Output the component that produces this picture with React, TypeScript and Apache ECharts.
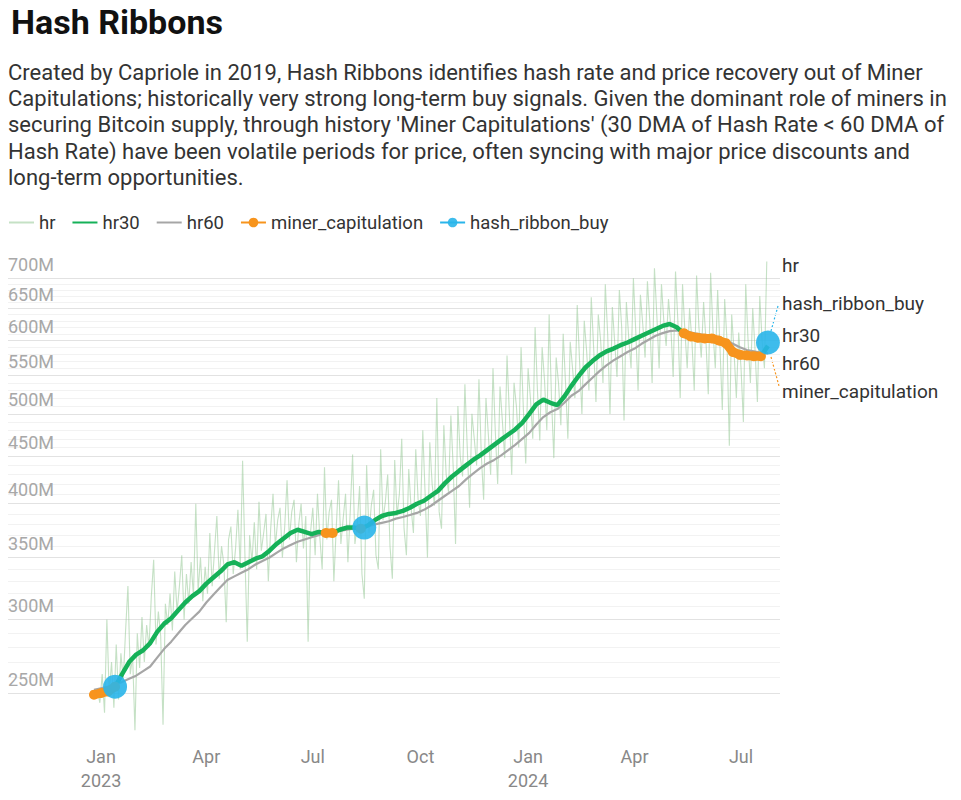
import React, { useEffect, useRef } from "react";
import * as echarts from "echarts";

const DAY = 86400000;
const T0 = Date.UTC(2023, 0, 1);

// Hash rate (sampled every 2 days), in M, starting 2022-12-29
const hrStartDay = -3;
const hrStepDays = 2;
const hr = [
  252, 244, 262, 238, 300, 250, 270, 241, 282, 246, 276, 258, 292, 326, 262, 274,
  228, 290, 266, 302, 270, 296, 280, 318, 348, 282, 306, 288, 231, 312, 296,
  320, 292, 338, 306, 326, 352, 300, 336, 312, 346, 318, 400, 322, 350, 314, 342,
  320, 372, 326, 356, 388, 332, 360, 344, 298, 366, 378, 336, 358, 394, 340,
  445, 352, 284, 370, 346, 382, 340, 402, 356, 372, 390, 330, 376, 410, 360,
  384, 396, 350, 378, 424, 366, 392, 404, 346, 380, 400, 358, 388, 284, 372, 396,
  352, 410, 368, 340, 438, 366, 392, 404, 330, 376, 424, 362, 386, 410, 346,
  392, 452, 362, 380, 418, 336, 316, 440, 372, 398, 414, 352, 340, 458, 384,
  402, 430, 360, 332, 446, 388, 410, 470, 376, 352, 436, 396, 372, 458, 404,
  388, 480, 410, 350, 466, 420, 398, 520, 392, 376, 486, 430, 412, 498, 438, 362,
  510, 450, 428, 538, 460, 396, 500, 470, 440, 545, 452, 404, 520, 476, 430,
  560, 478, 420, 535, 492, 448, 578, 500, 430, 540, 510, 460, 590, 505, 442,
  560, 520, 470, 620, 530, 468, 590, 545, 480, 640, 520, 448, 575, 540, 486,
  610, 540, 470, 598, 560, 520, 655, 570, 500, 630, 585, 530, 668, 590, 515,
  640, 600, 540, 690, 610, 500, 652, 598, 548, 680, 620, 492, 660, 605, 560, 700,
  615, 530, 672, 625, 575, 695, 630, 540, 718, 640, 560, 690, 630, 592, 665,
  620, 548, 712, 630, 520, 690, 615, 560, 650, 600, 530, 705, 620, 575, 660,
  600, 525, 710, 615, 560, 680, 590, 505, 665, 600, 462, 640, 585, 520, 612,
  560, 490, 690, 600, 540, 650, 585, 515, 670, 600, 560, 730,
];

// 30 / 60 day moving averages (sampled every 6 days), in M, starting 2022-12-26
const maStartDay = -6;
const maStepDays = 6;
const hr30 = [
  249, 250, 251, 254, 262, 270, 275, 278, 283, 291,
  297, 301, 307, 313, 318, 322, 328, 333, 338, 344,
  346, 343, 346, 349, 351, 356, 362, 367, 372, 375,
  373, 371, 373, 372, 372, 375, 377, 377, 376, 379,
  384, 388, 390, 391, 393, 396, 400, 403, 408, 413,
  421, 428, 434, 440, 446, 451, 457, 463, 469, 475,
  481, 489, 500, 512, 518, 514, 511, 522, 536, 549,
  561, 570, 578, 584, 588, 593, 597, 602, 607, 612,
  617, 622, 625, 620, 611, 606, 604, 603, 603, 600,
  596, 583, 579, 578, 577, 577, 592,
];
const hr60 = [
  252, 253, 254, 255, 257, 259, 261, 264, 267, 273,
  279, 284, 290, 296, 301, 306, 313, 319, 325, 331,
  334, 337, 340, 344, 347, 350, 354, 358, 361, 364,
  366, 368, 370, 373, 373.5, 374, 375, 376, 377.5, 378,
  380, 381.5, 383, 385.5, 387, 389, 391, 394, 398, 403,
  408, 413, 418, 425, 431, 437, 442, 446, 451, 457,
  463, 470, 477, 487, 496, 502, 506, 514, 523, 529,
  538, 547, 556, 564, 571, 577, 583, 588, 595, 601,
  607, 611, 614, 615, 614, 612, 610, 608, 606, 603,
  600, 595, 590, 586, 584, 582, 581,
];

// Hash ribbon buy signals
const buyDates = ["2023-01-13", "2023-08-14", "2024-07-24"];
const buyValues = [254, 377, 597];

// Axis ticks
const yMajorTicks = [250, 300, 350, 400, 450, 500, 550, 600, 650, 700];
const yMinorTicks = [
  260, 270, 280, 290, 310, 320, 330, 340, 360, 370, 380, 390, 410, 420, 430, 440,
  460, 470, 480, 490, 510, 520, 530, 540, 560, 570, 580, 590, 610, 620, 630, 640,
  660, 670, 680, 690,
];
const xTickDates = ["2023-01-01", "2023-04-01", "2023-07-01", "2023-10-01", "2024-01-01", "2024-04-01", "2024-07-01"];
const xTickLabels = ["Jan", "Apr", "Jul", "Oct", "Jan", "Apr", "Jul"];
const yearTickDates = ["2023-01-01", "2024-01-01"];
const yearTickLabels = ["2023", "2024"];

const parseDate = (s: string) => {
  const [y, m, d] = s.split("-").map(Number);
  return Date.UTC(y, m - 1, d);
};

const FONT = "Roboto, 'Noto Sans', sans-serif";

export default function App() {
  const ref = useRef<HTMLDivElement>(null);

  useEffect(() => {
    if (!ref.current) return;
    const chart = echarts.init(ref.current, undefined, { renderer: "svg" });

    const hrData = hr.map((v, i) => [T0 + (hrStartDay + i * hrStepDays) * DAY, v]);
    const maTime = (i: number) => T0 + (maStartDay + i * maStepDays) * DAY;
    const hr30Data = hr30.map((v, i) => [maTime(i), v]);
    const hr60Data = hr60.map((v, i) => [maTime(i), v]);
    const minerData = hr30.map((v, i) => [maTime(i), v < hr60[i] ? v : null]);
    const buyData: any[] = [];
    buyDates.forEach((d, i) => {
      const t = parseDate(d);
      buyData.push([t, buyValues[i]]);
      buyData.push([t + DAY, null]);
    });
    const xTicks = xTickDates.map(parseDate);
    const yearTicks = yearTickDates.map(parseDate);

    const xMin = T0 - 79.5 * DAY;
    const xMax = T0 + 580.3 * DAY;

    const markData: any[] = [
      ...yMinorTicks.map((v) => ({
        yAxis: v,
        lineStyle: { color: "#f2f2f2", width: 1, type: "solid" },
        label: { show: false },
      })),
      ...yMajorTicks.map((v) => ({
        yAxis: v,
        lineStyle: { color: "#e2e2e2", width: 1, type: "solid" },
        label: {
          show: true,
          position: "insideStartTop",
          formatter: v + "M",
          color: "#a8a8a8",
          fontSize: 18,
          fontFamily: FONT,
          distance: [0, 5],
        },
      })),
    ];

    const rightLabels = [
      { text: "hr", y: 265 },
      { text: "hash_ribbon_buy", y: 303 },
      { text: "hr30", y: 335 },
      { text: "hr60", y: 363 },
      { text: "miner_capitulation", y: 391 },
    ];

    const paragraph =
      "Created by Capriole in 2019, Hash Ribbons identifies hash rate and price recovery out of Miner\n" +
      "Capitulations; historically very strong long-term buy signals. Given the dominant role of miners in\n" +
      "securing Bitcoin supply, through history 'Miner Capitulations' (30 DMA of Hash Rate < 60 DMA of\n" +
      "Hash Rate) have been volatile periods for price, often syncing with major price discounts and\n" +
      "long-term opportunities.";

    const lineOnlyLegend = { color: "rgba(0,0,0,0)", opacity: 0, borderWidth: 0 };

    const labelFormatter = (ticks: number[], labels: string[]) => (val: number) => {
      const idx = ticks.findIndex((t) => Math.abs(t - val) < DAY);
      return idx >= 0 ? labels[idx] : "";
    };

    const hiddenAxisParts = {
      axisLine: { show: false },
      axisTick: { show: false },
      splitLine: { show: false },
    };

    const option: any = {
      animation: false,
      textStyle: { fontFamily: FONT },
      title: {
        text: "Hash Ribbons",
        left: 6,
        top: 0,
        textStyle: { fontSize: 34, fontWeight: "bold", color: "#111", fontFamily: FONT },
      },
      graphic: [
        {
          type: "text",
          left: 8,
          top: 59,
          style: { text: paragraph, font: `22px ${FONT}`, fill: "#333", lineHeight: 26.3 },
        },
        ...rightLabels.map((l) => ({
          type: "text",
          x: 782,
          y: l.y,
          style: { text: l.text, font: `19px ${FONT}`, fill: "#333", verticalAlign: "middle" },
        })),
        {
          type: "line",
          shape: { x1: 771, y1: 331, x2: 778, y2: 306 },
          style: { stroke: "#29b5ea", lineWidth: 1.2, lineDash: [2, 2] },
        },
        {
          type: "line",
          shape: { x1: 771, y1: 357, x2: 779, y2: 386 },
          style: { stroke: "#f7941d", lineWidth: 1.2, lineDash: [2, 2] },
        },
      ],
      legend: {
        left: 3,
        top: 208,
        itemWidth: 25,
        itemHeight: 12,
        itemGap: 16,
        textStyle: { fontSize: 18.5, color: "#333", fontFamily: FONT },
        data: [
          { name: "hr", itemStyle: lineOnlyLegend },
          { name: "hr30", itemStyle: lineOnlyLegend },
          { name: "hr60", itemStyle: lineOnlyLegend },
          { name: "miner_capitulation" },
          { name: "hash_ribbon_buy" },
        ],
      },
      grid: { left: 8, right: 181, top: 256, bottom: 55.5 },
      xAxis: [
        {
          type: "value",
          min: xMin,
          max: xMax,
          ...hiddenAxisParts,
          axisLabel: {
            customValues: xTicks,
            formatter: labelFormatter(xTicks, xTickLabels),
            fontSize: 18,
            color: "#888",
            lineHeight: 20,
            margin: 2,
            fontFamily: FONT,
            hideOverlap: false,
            showMinLabel: true,
            showMaxLabel: true,
          },
        },
        {
          type: "value",
          min: xMin,
          max: xMax,
          position: "bottom",
          offset: 24,
          ...hiddenAxisParts,
          axisLabel: {
            customValues: yearTicks,
            formatter: labelFormatter(yearTicks, yearTickLabels),
            fontSize: 18,
            color: "#888",
            lineHeight: 20,
            margin: 2,
            fontFamily: FONT,
            hideOverlap: false,
            showMinLabel: true,
            showMaxLabel: true,
          },
        },
      ],
      yAxis: {
        type: "log",
        logBase: 10,
        min: 220,
        max: 740,
        axisLine: { show: false },
        axisTick: { show: false },
        axisLabel: { show: false },
        splitLine: { show: false },
      },
      series: [
        {
          name: "gridlines",
          type: "line",
          data: hrData,
          showSymbol: false,
          silent: true,
          z: 0,
          lineStyle: { opacity: 0 },
          markLine: { silent: true, symbol: "none", data: markData, animation: false, z: 0 },
        },
        {
          name: "hr",
          type: "line",
          data: hrData,
          showSymbol: false,
          symbol: "none",
          z: 6,
          color: "rgba(140, 196, 140, 0.5)",
          lineStyle: { width: 1.1, color: "rgba(140, 196, 140, 0.5)" },
        },
        {
          name: "hr60",
          type: "line",
          data: hr60Data,
          showSymbol: false,
          symbol: "none",
          z: 7,
          color: "#a6a6a6",
          lineStyle: { width: 2.2, color: "#a6a6a6" },
        },
        {
          name: "hr30",
          type: "line",
          data: hr30Data,
          showSymbol: false,
          symbol: "none",
          z: 8,
          color: "#15b158",
          lineStyle: { width: 4.5, color: "#15b158" },
        },
        {
          name: "miner_capitulation",
          type: "line",
          data: minerData,
          symbol: "circle",
          symbolSize: 10,
          showSymbol: true,
          z: 9,
          color: "#f7941d",
          itemStyle: { color: "#f7941d" },
          lineStyle: { width: 9, color: "#f7941d" },
        },
        {
          name: "hash_ribbon_buy",
          type: "line",
          data: buyData,
          symbol: "circle",
          symbolSize: 24,
          showSymbol: true,
          z: 10,
          color: "#29b5ea",
          itemStyle: { color: "#29b5ea", opacity: 0.9 },
          lineStyle: { width: 3, color: "#29b5ea" },
        },
      ],
    };

    chart.setOption(option);
    return () => chart.dispose();
  }, []);

  return (
    <div
      ref={ref}
      style={{ position: "fixed", left: 0, top: 0, width: 961, height: 800, background: "#fff" }}
    />
  );
}
